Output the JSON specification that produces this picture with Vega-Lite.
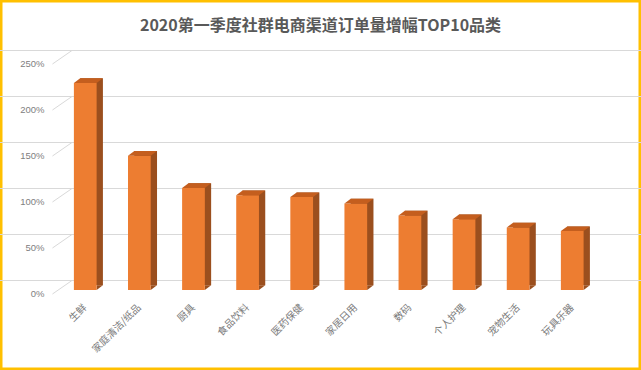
{
  "$schema": "https://vega.github.io/schema/vega-lite/v6.json",
  "width": 641,
  "height": 370,
  "padding": 0,
  "autosize": {"type": "none"},
  "background": "white",
  "config": {
    "view": {"stroke": "#FFC000", "strokeWidth": 5},
    "axis": {"grid": false, "domain": false, "ticks": false, "title": null}
  },
  "title": {
    "text": "2020第一季度社群电商渠道订单量增幅TOP10品类",
    "font": "Noto Sans CJK SC",
    "fontSize": 16,
    "fontWeight": "bold",
    "color": "#595959",
    "anchor": "middle",
    "offset": -34
  },
  "datasets": {
    "bars": [
      {"cat": "生鲜", "v": 2.25},
      {"cat": "家庭清洁/纸品", "v": 1.46},
      {"cat": "厨具", "v": 1.11},
      {"cat": "食品饮料", "v": 1.03},
      {"cat": "医药保健", "v": 1.01},
      {"cat": "家居日用", "v": 0.94},
      {"cat": "数码", "v": 0.81},
      {"cat": "个人护理", "v": 0.77},
      {"cat": "宠物生活", "v": 0.68},
      {"cat": "玩具乐器", "v": 0.64}
    ],
    "ticks": [
      {"v": 0}, {"v": 0.5}, {"v": 1}, {"v": 1.5}, {"v": 2}, {"v": 2.5}
    ]
  },
  "layer": [
    {
      "data": {"name": "ticks"},
      "mark": {"type": "rule", "color": "#D9D9D9", "strokeWidth": 1, "xOffset": 72, "x2Offset": -28, "yOffset": -9.5},
      "encoding": {
        "y": {"field": "v", "type": "quantitative", "title": null}
      }
    },
    {
      "data": {"name": "ticks"},
      "mark": {"type": "rule", "color": "#D9D9D9", "strokeWidth": 1, "xOffset": -32.8, "x2Offset": -13.3, "yOffset": 4, "y2Offset": -9.5},
      "encoding": {
        "x": {"datum": "生鲜", "type": "nominal"},
        "x2": {"datum": "生鲜"},
        "y": {"field": "v", "type": "quantitative", "title": null},
        "y2": {"field": "v"}
      }
    },
    {
      "data": {"name": "bars"},
      "mark": {"type": "bar", "color": "#9B4F1E", "xOffset": 6.3, "x2Offset": 6.3, "yOffset": -4.7, "y2Offset": -4.7},
      "encoding": {
        "x": {"field": "cat", "type": "nominal", "sort": null, "title": null},
        "y": {"field": "v", "type": "quantitative", "title": null}
      }
    },
    {
      "data": {"name": "bars"},
      "mark": {"type": "point", "filled": true, "opacity": 1, "strokeWidth": 0, "size": 4, "color": "#9B4F1E", "shape": "M 11.35 -4.7 L 17.65 -4.7 L 11.35 0 Z"},
      "encoding": {
        "x": {"field": "cat", "type": "nominal", "sort": null, "title": null},
        "y": {"datum": 0, "type": "quantitative"}
      }
    },
    {
      "data": {"name": "bars"},
      "mark": {"type": "bar", "color": "#ED7D31"},
      "encoding": {
        "x": {
          "field": "cat", "type": "nominal", "sort": null, "title": null,
          "scale": {"range": [58.2, 599.3], "paddingInner": 0.58, "paddingOuter": 0.29},
          "axis": {"orient": "bottom", "offset": -66, "labelPadding": 1.5, "labelAngle": -45, "labelAlign": "right", "labelBaseline": "middle", "labelFont": "Noto Sans CJK SC", "labelFontSize": 10, "labelColor": "#7A7A7A"}
        },
        "y": {
          "field": "v", "type": "quantitative", "title": null,
          "scale": {"domain": [0, 2.5], "range": [290, 60], "nice": false, "zero": true},
          "axis": {"orient": "left", "offset": -46, "labelPadding": 2, "values": [0, 0.5, 1, 1.5, 2, 2.5], "format": ".0%", "labelOffset": 3.5, "labelFont": "Liberation Sans", "labelFontSize": 9.5, "labelColor": "#808080"}
        }
      }
    },
    {
      "data": {"name": "bars"},
      "mark": {"type": "point", "filled": true, "opacity": 1, "strokeWidth": 0, "size": 4, "color": "#C45E1E", "shape": "M -11.35 0 L 11.35 0 L 17.65 -4.7 L -5.05 -4.7 Z"},
      "encoding": {
        "x": {"field": "cat", "type": "nominal", "sort": null, "title": null},
        "y": {"field": "v", "type": "quantitative", "title": null}
      }
    }
  ]
}
